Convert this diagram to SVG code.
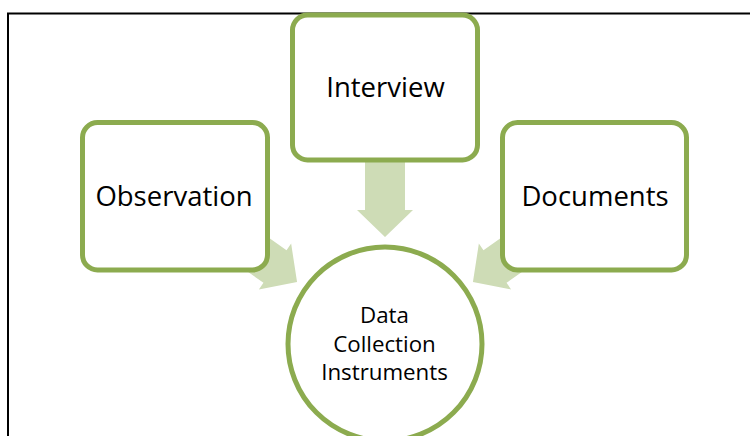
<svg xmlns="http://www.w3.org/2000/svg" width="750" height="436" viewBox="0 0 750 436">
<style>
.box{fill:#ffffff;stroke:#8cab4f;stroke-width:5}
.arrow{fill:#cedcb6}
.lbl{font-family:"Open Sans","Noto Sans","Liberation Sans",sans-serif;font-size:27.5px;fill:#000;text-anchor:middle}
.sm{font-size:22.3px}
</style>
<defs>
<path id="arr" d="M-60,-20 L0,-20 L0,-28 L27,0 L0,28 L0,20 L-60,20 Z"/>
</defs>
<rect x="0" y="0" width="750" height="436" fill="#ffffff"/>
<path d="M8,436 L8,13.5 L750,13.5" fill="none" stroke="#000" stroke-width="2"/>
<g id="connectors">
<use href="#arr" class="arrow" transform="translate(385,210) rotate(90)"/>
<use href="#arr" class="arrow" transform="translate(275,266.5) rotate(35.2)"/>
<use href="#arr" class="arrow" transform="translate(495,266.5) rotate(144.8)"/>
</g>
<g id="center">
<circle class="box" cx="385" cy="344" r="97"/>
<text class="lbl sm" x="384.5" y="323">Data</text>
<text class="lbl sm" x="384.5" y="351.5">Collection</text>
<text class="lbl sm" x="384.5" y="380">Instruments</text>
</g>
<g id="interview">
<rect class="box" x="292.5" y="15" width="185" height="145" rx="15"/>
<text class="lbl" x="385.5" y="96.5">Interview</text>
</g>
<g id="observation">
<rect class="box" x="82.5" y="122.5" width="185" height="147.5" rx="15"/>
<text class="lbl" x="174" y="206">Observation</text>
</g>
<g id="documents">
<rect class="box" x="502.5" y="122.5" width="184" height="147.5" rx="15"/>
<text class="lbl" x="595" y="206">Documents</text>
</g>
</svg>
